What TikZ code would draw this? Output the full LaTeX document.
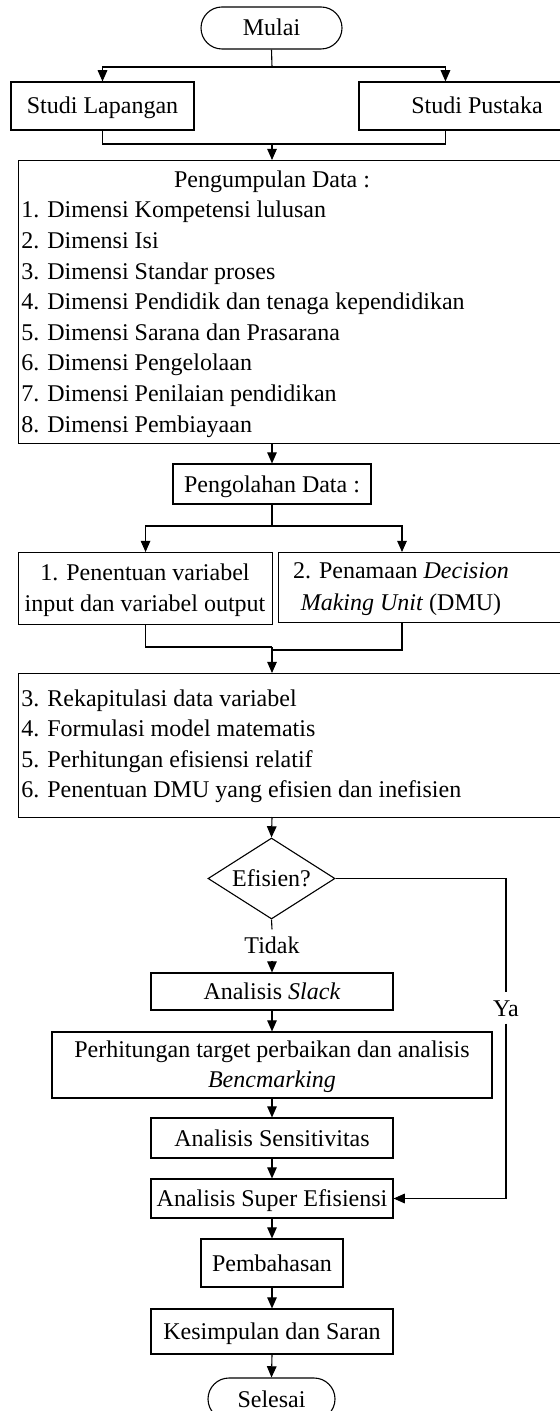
\documentclass[tikz,border=0pt]{standalone}
\usepackage{fontspec}
\setmainfont{Liberation Serif}
\usetikzlibrary{arrows.meta,shapes.geometric}
\begin{document}
\begin{tikzpicture}[x=0.5pt,y=-0.5pt,
  every node/.style={font=\fontsize{12}{15}\selectfont},
  box/.style={draw, line width=0.55pt, inner sep=0pt, text height=8pt, text depth=0pt},
  term/.style={box, rounded corners=10.5pt},
  dia/.style={draw, line width=0.55pt, diamond, aspect=1.57, inner sep=0pt, text height=8pt, text depth=0pt},
  txt/.style={inner sep=0pt},
  lbl/.style={inner sep=3.6pt, text height=8pt, text depth=0pt},
  conn/.style={line width=0.55pt},
  arr/.style={conn, -{Triangle[width=4.8pt,length=5.6pt]}}]
\useasboundingbox (0,0) rectangle (560,1411);
\clip (0,0) rectangle (560,1411);

% start and literature boxes
\node[term, minimum width=70.5pt, minimum height=21pt] (mulai) at (271.5,28) {Mulai};
\node[box, minimum width=91.5pt, minimum height=24pt] (lap) at (102.5,106) {Studi Lapangan};
\node[box, minimum width=118pt, minimum height=24pt] (pus) at (477,106) {Studi Pustaka};
\coordinate (pusin) at ([xshift=43.5pt]pus.north west);
\coordinate (pusout) at ([xshift=43.5pt]pus.south west);
\coordinate (s1) at (272,67);
\coordinate (j1) at (272,144);
\draw[conn] (mulai.south) -- (s1);
\draw[arr] (s1) -| (lap.north);
\draw[arr] (s1) -| (pusin);
\draw[conn] (lap.south) |- (j1);
\draw[conn] (pusout) |- (j1);

% data collection
\node[box, anchor=north west, minimum width=296pt, minimum height=141.5pt] (kumpul) at (18,160) {};
\coordinate (kumin) at (272,160);
\coordinate (kumout) at (272,443);
\draw[arr] (j1) -- (kumin);
\node[txt, anchor=base] (kt) at (272,188) {Pengumpulan Data :};
\foreach [count=\i] \t in {Dimensi Kompetensi lulusan, Dimensi Isi, Dimensi Standar proses,
  Dimensi Pendidik dan tenaga kependidikan, Dimensi Sarana dan Prasarana,
  Dimensi Pengelolaan, Dimensi Penilaian pendidikan, Dimensi Pembiayaan}
  \node[txt, anchor=base west] (k\i) at (21,{218+30.6*(\i-1)}) {\i. \t};

% data processing
\node[box, minimum width=99pt, minimum height=20pt] (olah) at (272,484) {Pengolahan Data :};
\draw[arr] (kumout) -- (olah.north);
\coordinate (s2) at (272,526);
\node[box, anchor=north west, minimum width=127pt, minimum height=36pt] (b1) at (18,552) {};
\node[box, anchor=north west, minimum width=166pt, minimum height=35pt] (b2) at (278,552) {};
\coordinate (b2in) at ([xshift=62pt]b2.north west);
\coordinate (b2out) at ([xshift=62pt]b2.south west);
\draw[conn] (olah.south) -- (s2);
\draw[arr] (s2) -| (b1.north);
\draw[arr] (s2) -| (b2in);
\node[txt, anchor=base] (b1a) at (145,580) {1. Penentuan variabel};
\node[txt, anchor=base] (b1b) at (145,611) {input dan variabel output};
\node[txt, anchor=base] (b2a) at (401,578) {2. Penamaan \textit{Decision}};
\node[txt, anchor=base] (b2b) at (401,610) {\textit{Making Unit} (DMU)};

\coordinate (j2a) at (272,647);
\coordinate (j2b) at (272,650);
\draw[conn] (b1.south) |- (j2a);
\draw[conn] (b2out) |- (j2b);

% analysis steps
\node[box, anchor=north west, minimum width=296pt, minimum height=72pt] (r3) at (18,673) {};
\coordinate (r3in) at (272,673);
\coordinate (r3out) at (272,817);
\draw[arr] (j2a) -- (r3in);
\foreach [count=\i from 3] \t in {Rekapitulasi data variabel, Formulasi model matematis,
  Perhitungan efisiensi relatif, Penentuan DMU yang efisien dan inefisien}
  \node[txt, anchor=base west] (r\i) at (21,{706+30.6*(\i-3)}) {\i. \t};

% decision
\node[dia, minimum width=63.5pt, minimum height=40.5pt] (dia) at (271.5,878.5) {Efisien?};
\draw[arr] (r3out) -- (dia.north);
\node[lbl] (tidak) at (272,945) {Tidak};
\node[lbl] (ya) at (506,1008) {Ya};

\node[box, minimum width=121pt, minimum height=18.5pt] (slack) at (272,991.5) {Analisis \textit{Slack}};
\node[box, minimum width=220pt, minimum height=33pt] (hitung) at (272,1065) {};
\node[txt, anchor=base] (h1) at (272,1057) {Perhitungan target perbaikan dan analisis};
\node[txt, anchor=base] (h2) at (272,1087) {\textit{Bencmarking}};
\node[box, minimum width=121pt, minimum height=20pt] (sens) at (272,1138) {Analisis Sensitivitas};
\node[box, minimum width=121pt, minimum height=19.5pt] (super) at (272,1198.5) {Analisis Super Efisiensi};
\node[box, minimum width=71pt, minimum height=24pt] (bahas) at (272,1263) {Pembahasan};
\node[box, minimum width=121pt, minimum height=22.5pt] (simpul) at (272,1331.5) {Kesimpulan dan Saran};
\node[term, minimum width=63.5pt, minimum height=21pt] (selesai) at (271.5,1399) {Selesai};

\draw[conn] (dia.south) -- (tidak.north);
\draw[arr] (tidak.south) -- (slack.north);
\draw[conn] (dia.east) -| (ya.north);
\draw[arr] (ya.south) |- (super.east);
\draw[arr] (slack.south) -- (hitung.north);
\draw[arr] (hitung.south) -- (sens.north);
\draw[arr] (sens.south) -- (super.north);
\draw[arr] (super.south) -- (bahas.north);
\draw[arr] (bahas.south) -- (simpul.north);
\draw[arr] (simpul.south) -- (selesai.north);
\end{tikzpicture}
\end{document}
